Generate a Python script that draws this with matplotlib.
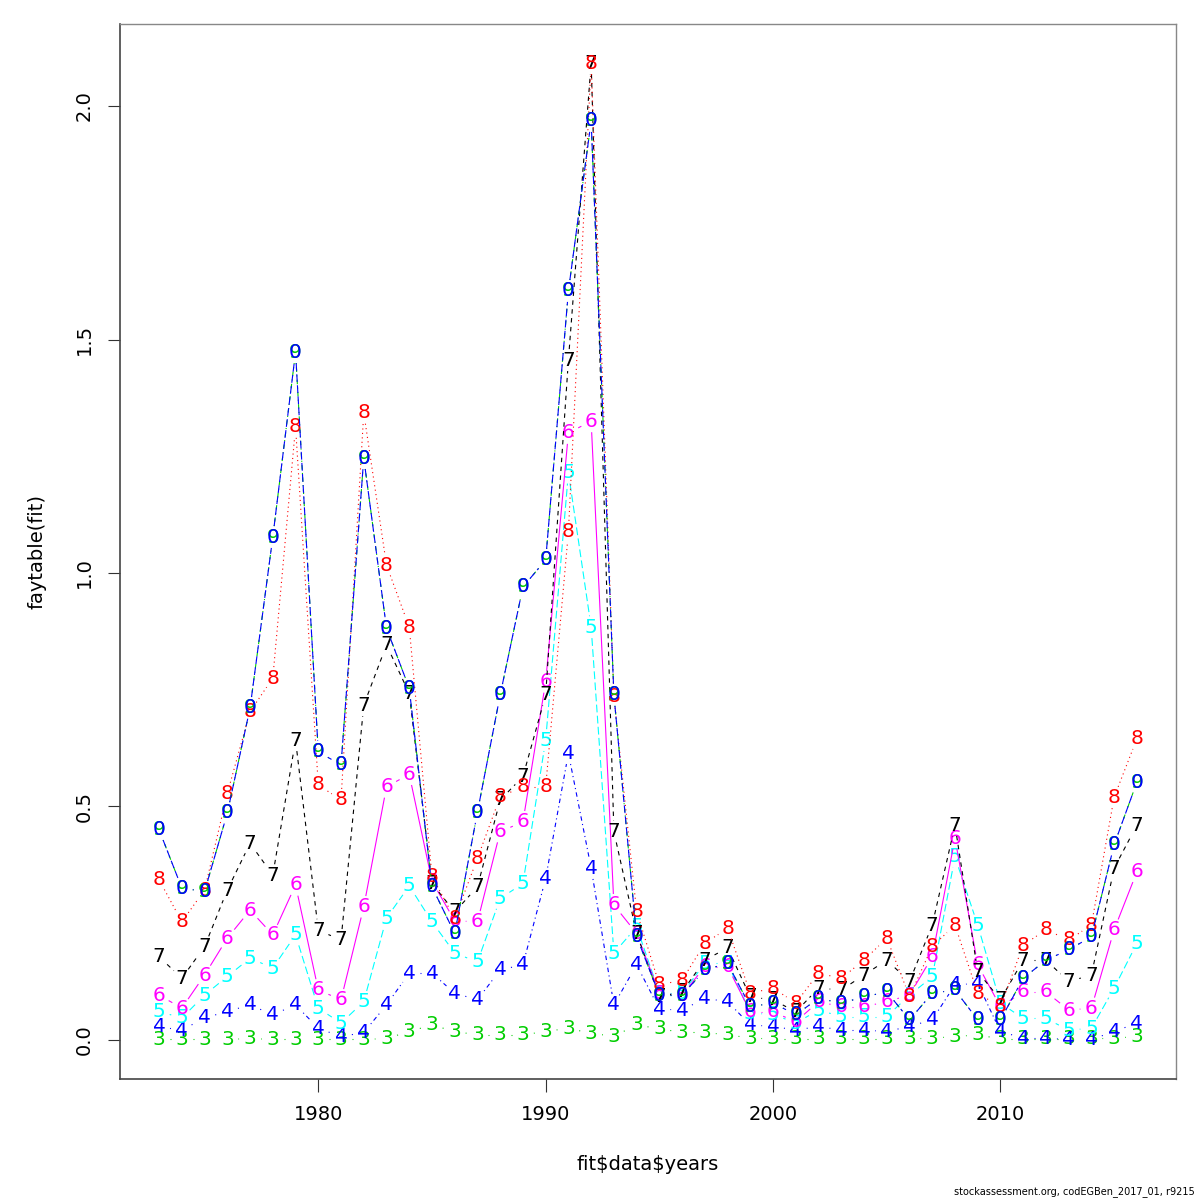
import numpy as np
import matplotlib
matplotlib.use("Agg")
import matplotlib.pyplot as plt
from matplotlib.collections import LineCollection

years = list(range(1973, 2017))

age3 = [0.001, 0.001, 0.001, 0.001, 0.003, 0.001, 0.001, 0.001, 0.001, 0.001, 0.003, 0.018,
        0.032, 0.018, 0.011, 0.011, 0.011, 0.018, 0.025, 0.014, 0.008, 0.032, 0.024, 0.016,
        0.016, 0.011, 0.004, 0.002, 0.002, 0.002, 0.002, 0.002, 0.002, 0.002, 0.004, 0.007,
        0.011, 0.002, 0.002, 0.002, 0.002, 0.002, 0.004, 0.007]
age4 = [0.028, 0.021, 0.047, 0.061, 0.075, 0.054, 0.075, 0.025, 0.007, 0.016, 0.075, 0.143,
        0.143, 0.100, 0.086, 0.150, 0.161, 0.346, 0.614, 0.368, 0.075, 0.161, 0.066, 0.064,
        0.089, 0.082, 0.032, 0.029, 0.021, 0.029, 0.021, 0.021, 0.018, 0.029, 0.043, 0.118,
        0.121, 0.018, 0.004, 0.004, 0.001, 0.001, 0.018, 0.036]
age5 = [0.061, 0.047, 0.096, 0.136, 0.175, 0.154, 0.225, 0.068, 0.036, 0.082, 0.261, 0.330,
        0.253, 0.186, 0.167, 0.303, 0.335, 0.642, 1.215, 0.884, 0.186, 0.242, 0.100, 0.100,
        0.164, 0.164, 0.057, 0.055, 0.036, 0.064, 0.050, 0.050, 0.050, 0.096, 0.135, 0.392,
        0.246, 0.079, 0.046, 0.046, 0.021, 0.025, 0.111, 0.207]
age6 = [0.096, 0.068, 0.139, 0.218, 0.278, 0.225, 0.332, 0.107, 0.086, 0.285, 0.542, 0.569,
        0.340, 0.255, 0.253, 0.446, 0.467, 0.767, 1.300, 1.325, 0.289, 0.228, 0.100, 0.096,
        0.157, 0.157, 0.060, 0.060, 0.039, 0.082, 0.071, 0.071, 0.082, 0.096, 0.178, 0.432,
        0.161, 0.071, 0.103, 0.103, 0.064, 0.068, 0.236, 0.360]
age7 = [0.178, 0.132, 0.200, 0.321, 0.421, 0.353, 0.642, 0.235, 0.214, 0.717, 0.846, 0.742,
        0.335, 0.274, 0.328, 0.514, 0.564, 0.739, 1.456, 2.092, 0.446, 0.228, 0.092, 0.103,
        0.171, 0.197, 0.092, 0.086, 0.060, 0.111, 0.107, 0.139, 0.171, 0.125, 0.246, 0.460,
        0.146, 0.086, 0.171, 0.171, 0.125, 0.139, 0.368, 0.460]
age8 = [0.343, 0.253, 0.321, 0.528, 0.703, 0.775, 1.313, 0.546, 0.514, 1.343, 1.017, 0.884,
        0.350, 0.260, 0.389, 0.521, 0.542, 0.542, 1.088, 2.092, 0.735, 0.275, 0.118, 0.128,
        0.207, 0.239, 0.100, 0.111, 0.079, 0.143, 0.132, 0.171, 0.218, 0.093, 0.200, 0.246,
        0.100, 0.071, 0.203, 0.236, 0.214, 0.246, 0.520, 0.645]
age9 = [0.450, 0.325, 0.318, 0.486, 0.711, 1.077, 1.473, 0.617, 0.589, 1.246, 0.882, 0.753,
        0.328, 0.228, 0.488, 0.739, 0.970, 1.028, 1.604, 1.968, 0.739, 0.221, 0.096, 0.096,
        0.150, 0.164, 0.071, 0.079, 0.054, 0.089, 0.079, 0.092, 0.103, 0.043, 0.100, 0.107,
        0.043, 0.043, 0.132, 0.171, 0.193, 0.221, 0.418, 0.552]
age10 = list(age9)

series = [age3, age4, age5, age6, age7, age8, age9, age10]
symbols = ["3", "4", "5", "6", "7", "8", "9", "0"]
colors = ["#00CD00", "#0000FF", "#00FFFF", "#FF00FF", "#000000", "#FF0000", "#00CD00", "#0000FF"]
dotted = (0, (1, 3))
dotdash = (0, (1, 3, 4, 3))
longdash = (0, (7, 3))
solid = "solid"
dashed = (0, (4, 4))
styles = [dotted, dotdash, longdash, solid, dashed, dotted, dotdash, longdash]

fig = plt.figure(figsize=(12, 12), dpi=100)
ax = fig.add_axes([0.1, 1 - 1079 / 1200, 0.98 - 0.1, (1079 - 24) / 1200])

allv = np.concatenate([np.asarray(s) for s in series])
ymin, ymax = 0.0, allv.max()
yr = ymax - ymin
ax.set_xlim(years[0] - 0.04 * (years[-1] - years[0]), years[-1] + 0.04 * (years[-1] - years[0]))
ax.set_ylim(ymin - 0.04 * yr, ymax + 0.04 * yr)

gap_px = 11.0
inv = ax.transData.inverted()
for k, (vals, sym, col, ls) in enumerate(zip(series, symbols, colors, styles)):
    pts = ax.transData.transform(np.column_stack([years, vals]))
    segs = []
    for i in range(len(pts) - 1):
        p0, p1 = pts[i], pts[i + 1]
        d = p1 - p0
        L = np.hypot(d[0], d[1])
        if L <= 2 * gap_px:
            continue
        u = d / L
        segs.append(inv.transform(np.array([p0 + u * gap_px, p1 - u * gap_px])))
    lc = LineCollection(segs, colors=col, linewidths=0.8, linestyles=[ls], zorder=2 + 2 * k)
    ax.add_collection(lc)
    for x, y in zip(years, vals):
        ax.text(x, y, sym, color=col, fontsize=14.5, ha="center", va="center",
                zorder=3 + 2 * k, family="DejaVu Sans")

ax.set_xticks([1980, 1990, 2000, 2010])
ax.set_yticks([0.0, 0.5, 1.0, 1.5, 2.0])
ax.set_yticklabels(["0.0", "0.5", "1.0", "1.5", "2.0"], rotation=90, va="center")
ax.tick_params(axis="both", length=9, width=0.8, color="#333333", labelsize=14, pad=10)

for s in ["left", "bottom"]:
    ax.spines[s].set_color("#444444")
    ax.spines[s].set_linewidth(1.2)
for s in ["top", "right"]:
    ax.spines[s].set_color("#888888")
    ax.spines[s].set_linewidth(1.0)

ax.set_xlabel(r"fit\$data\$years", fontsize=14)
ax.xaxis.label.set_verticalalignment("center")
ax.xaxis.set_label_coords(0.5, (1079 - 1165) / 1055)
ax.set_ylabel("faytable(fit)", fontsize=14)
ax.yaxis.label.set_verticalalignment("center")
ax.yaxis.set_label_coords((37 - 120) / 1056, 0.5)

fig.text(1195 / 1200, 1 - 1192 / 1200, "stockassessment.org, codEGBen_2017_01, r9215",
         fontsize=7, ha="right", va="center")

fig.savefig("out.png", dpi=100)
